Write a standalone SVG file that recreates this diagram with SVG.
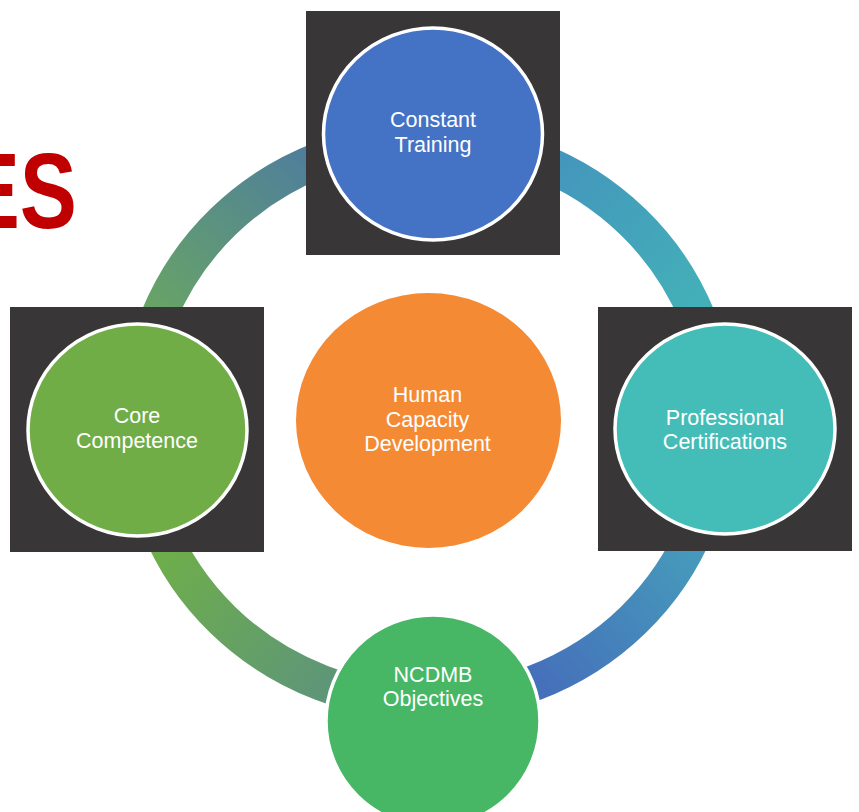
<svg xmlns="http://www.w3.org/2000/svg" width="859" height="812" viewBox="0 0 859 812">
  <style>
    .box { fill: #383637; }
    .node { stroke: #FFFFFF; stroke-width: 3.5; }
    .lbl { font-family: "Liberation Sans", Arial, sans-serif; font-size: 21.5px; fill: #FFFFFF; text-anchor: middle; }
    .ring { fill: none; stroke-width: 36; stroke-linecap: butt; }
  </style>
  <defs>
    <linearGradient id="gTL" gradientUnits="userSpaceOnUse" x1="155" y1="315" x2="310" y2="150">
      <stop offset="0" stop-color="#68A466"/>
      <stop offset="1" stop-color="#4E7E9C"/>
    </linearGradient>
    <linearGradient id="gTR" gradientUnits="userSpaceOnUse" x1="560" y1="165" x2="700" y2="305">
      <stop offset="0" stop-color="#4497BC"/>
      <stop offset="1" stop-color="#43B0B8"/>
    </linearGradient>
    <linearGradient id="gBR" gradientUnits="userSpaceOnUse" x1="690" y1="555" x2="536" y2="682">
      <stop offset="0" stop-color="#4699BA"/>
      <stop offset="1" stop-color="#4570BA"/>
    </linearGradient>
    <linearGradient id="gBL" gradientUnits="userSpaceOnUse" x1="168" y1="555" x2="328" y2="685">
      <stop offset="0" stop-color="#6EAD4C"/>
      <stop offset="1" stop-color="#5E9678"/>
    </linearGradient>
  </defs>
  <rect width="859" height="812" fill="#FFFFFF"/>

  <text x="96" y="228" transform="scale(0.8,1)" font-family="'Liberation Sans', Arial, sans-serif" font-weight="bold" font-size="107" fill="#C00000" text-anchor="end">ES</text>

  <g id="connectors">
    <path class="ring" stroke="url(#gTL)" d="M138,421 A290,281.5 0 0 1 428,139.5"/>
    <path class="ring" stroke="url(#gTR)" d="M428,139.5 A290,281.5 0 0 1 718,421"/>
    <path class="ring" stroke="url(#gBR)" d="M718,421 A290,281.5 0 0 1 428,702.5"/>
    <path class="ring" stroke="url(#gBL)" d="M428,702.5 A290,281.5 0 0 1 138,421"/>
  </g>

  <g id="center">
    <ellipse cx="428.5" cy="420.5" rx="132.5" ry="127.5" fill="#F58A35"/>
    <text class="lbl" x="427.5" y="402">Human</text>
    <text class="lbl" x="427.5" y="427">Capacity</text>
    <text class="lbl" x="427.5" y="451">Development</text>
  </g>

  <g id="constant-training">
    <rect class="box" x="306" y="11" width="254" height="244"/>
    <ellipse class="node" cx="433" cy="134" rx="109.5" ry="106" fill="#4472C4"/>
    <text class="lbl" x="433" y="127">Constant</text>
    <text class="lbl" x="433" y="152">Training</text>
  </g>

  <g id="core-competence">
    <rect class="box" x="10" y="307" width="254" height="245"/>
    <ellipse class="node" cx="137.5" cy="430" rx="109.5" ry="106" fill="#70AD47"/>
    <text class="lbl" x="137" y="423">Core</text>
    <text class="lbl" x="137" y="448">Competence</text>
  </g>

  <g id="professional-certifications">
    <rect class="box" x="598" y="307" width="254" height="244"/>
    <ellipse class="node" cx="725" cy="429" rx="110" ry="105" fill="#44BDB8"/>
    <text class="lbl" x="725" y="425">Professional</text>
    <text class="lbl" x="725" y="449">Certifications</text>
  </g>

  <g id="ncdmb-objectives">
    <ellipse class="node" cx="433" cy="721" rx="107" ry="106" fill="#47B766"/>
    <text class="lbl" x="433" y="682">NCDMB</text>
    <text class="lbl" x="433" y="706">Objectives</text>
  </g>
</svg>
